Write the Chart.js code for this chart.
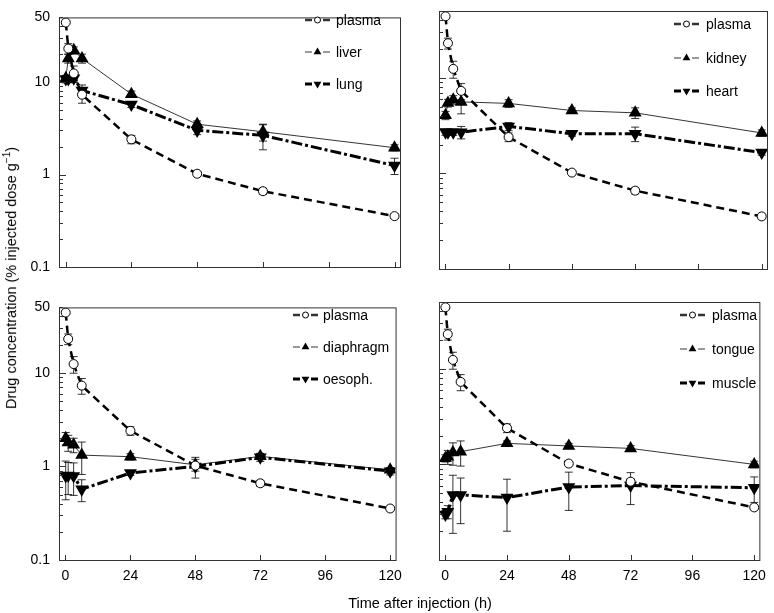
<!DOCTYPE html>
<html>
<head>
<meta charset="utf-8">
<script src="https://cdn.jsdelivr.net/npm/chart.js@4.4.1/dist/chart.umd.min.js"></script>
<style>
  body { margin: 0; background: #fff; width: 774px; height: 613px; position: relative; overflow: hidden;
         font-family: "Liberation Sans", Arial, sans-serif; color: #000; }
  .panel { position: absolute; }
  #ytitle { position: absolute; left: 10px; top: 278px; transform: translate(-50%, -50%) rotate(-90deg);
            white-space: nowrap; font-size: 14.5px; }
  #ytitle sup { font-size: 10px; }
  #xtitle { position: absolute; left: 420px; top: 603px; transform: translate(-50%, -50%);
            white-space: nowrap; font-size: 14.5px; }
</style>
</head>
<body>
<div class="panel" style="left:0;top:0"><canvas id="c1" width="410" height="290"></canvas></div>
<div class="panel" style="left:410px;top:0"><canvas id="c2" width="364" height="290"></canvas></div>
<div class="panel" style="left:0;top:290px"><canvas id="c3" width="410" height="323"></canvas></div>
<div class="panel" style="left:410px;top:290px"><canvas id="c4" width="364" height="323"></canvas></div>
<div id="ytitle">Drug concentration (% injected dose g<sup>−1</sup>)</div>
<div id="xtitle">Time after injection (h)</div>

<script>
// Sampling times (h) and axis ticks
const times = [0.08, 1, 3, 6, 24, 48, 72, 120];
const xTicks = [0, 24, 48, 72, 96, 120];
const yTicks = [0.1, 1, 10, 50];

// Mean values (% injected dose per g) and SD
const plasma      = [44, 23, 12.4, 7.3, 2.4, 1.02, 0.66, 0.355];
const plasmaSd    = [0, 3, 2.5, 1.4, 0.25, 0.05, 0.05, 0.02];
const liver       = [11, 18, 22, 18, 7.4, 3.5, 2.9, 1.95];
const liverSd     = [0, 2, 2, 2, 0.6, 0.3, 0.6, 0.15];
const lung        = [10.8, 10.8, 11, 8.1, 5.7, 3.0, 2.65, 1.25];
const lungSd      = [1, 1, 1, 1.2, 0.4, 0.3, 0.8, 0.25];
const kidney      = [4.05, 5.45, 5.9, 5.6, 5.4, 4.55, 4.3, 2.65];
const kidneySd    = [0.4, 0.5, 0.6, 1.4, 0.5, 0.3, 0.55, 0.2];
const heart       = [2.7, 2.7, 2.7, 2.7, 3.1, 2.6, 2.6, 1.65];
const heartSd     = [0.2, 0.2, 0.2, 0.4, 0.3, 0.15, 0.45, 0.1];
const diaphragm   = [2.0, 1.8, 1.7, 1.32, 1.27, 1.04, 1.28, 0.92];
const diaphragmSd = [0.3, 0.35, 0.3, 0.5, 0.1, 0.15, 0.1, 0.05];
const oesoph      = [0.79, 0.8, 0.79, 0.57, 0.85, 1.0, 1.25, 0.89];
const oesophSd    = [0.35, 0.3, 0.3, 0.15, 0.05, 0.25, 0.12, 0.08];
const tongue      = [1.16, 1.2, 1.33, 1.36, 1.66, 1.56, 1.47, 1.0];
const tongueSd    = [0.1, 0.2, 0.35, 0.4, 0.1, 0.1, 0.1, 0.08];
const muscle      = [0.3, 0.32, 0.48, 0.48, 0.45, 0.58, 0.6, 0.57];
const muscleSd    = [0.03, 0.05, 0.29, 0.24, 0.25, 0.25, 0.22, 0.17];

const FONT = '"Liberation Sans", Arial, sans-serif';

const styles = {
  circle: { borderWidth: 2.5, borderDash: [8, 5], pointStyle: 'circle', pointRadius: 4.5,
            pointRotation: 0, pointBackgroundColor: '#fff', pointBorderWidth: 1 },
  up:     { borderWidth: 0.8, borderDash: [], pointStyle: 'triangle', pointRadius: 7.5,
            pointRotation: 0, pointBackgroundColor: '#000', pointBorderWidth: 0 },
  down:   { borderWidth: 3, borderDash: [11, 3, 3, 3], pointStyle: 'triangle', pointRadius: 7.5,
            pointRotation: 180, pointBackgroundColor: '#000', pointBorderWidth: 0 }
};

function makeDataset(label, values, sd, style) {
  return Object.assign({
    label: label,
    data: times.map((t, i) => ({ x: t, y: values[i] })),
    sd: sd,
    borderColor: '#000',
    pointBorderColor: '#000',
    tension: 0,
    fill: false
  }, styles[style]);
}

// Frame, inward tick marks, error bars and the small legend
const panelDeco = {
  id: 'panelDeco',
  beforeDatasetsDraw(chart) {
    const ctx = chart.ctx, y = chart.scales.y;
    ctx.save();
    ctx.strokeStyle = '#000';
    ctx.lineWidth = 0.8;
    chart.data.datasets.forEach((ds, i) => {
      const meta = chart.getDatasetMeta(i);
      ds.data.forEach((p, j) => {
        const s = ds.sd[j];
        if (!s) return;
        const px = meta.data[j].x;
        const top = y.getPixelForValue(p.y + s);
        const bot = y.getPixelForValue(Math.max(p.y - s, 0.1));
        ctx.beginPath();
        ctx.moveTo(px, top); ctx.lineTo(px, bot);
        ctx.moveTo(px - 4, top); ctx.lineTo(px + 4, top);
        ctx.moveTo(px - 4, bot); ctx.lineTo(px + 4, bot);
        ctx.stroke();
      });
    });
    ctx.restore();
  },
  afterDraw(chart, args, opts) {
    const ctx = chart.ctx, a = chart.chartArea;
    const xs = chart.scales.x, ys = chart.scales.y;
    ctx.save();
    ctx.strokeStyle = '#333';
    ctx.lineWidth = 1;
    ctx.strokeRect(a.left + 0.5, a.top + 0.5, a.right - a.left, a.bottom - a.top);
    ctx.beginPath();
    xTicks.forEach(v => {
      const px = Math.round(xs.getPixelForValue(v)) + 0.5;
      ctx.moveTo(px, a.bottom); ctx.lineTo(px, a.bottom - 5);
    });
    [0.1, 1, 10].forEach(dec => {
      for (let k = 1; k <= 9; k++) {
        const v = dec * k;
        if (v > 50) break;
        const py = Math.round(ys.getPixelForValue(v)) + 0.5;
        ctx.moveTo(a.left, py); ctx.lineTo(a.left + (k === 1 ? 7 : 4), py);
      }
    });
    ctx.stroke();

    // legend
    const lg = opts.legend;
    ctx.font = '14px ' + FONT;
    ctx.fillStyle = '#000';
    ctx.textBaseline = 'middle';
    chart.data.datasets.forEach((ds, i) => {
      const ly = lg.rows[i];
      ctx.setLineDash([]);
      ctx.lineWidth = ds.borderWidth;
      ctx.beginPath();
      ctx.moveTo(lg.x, ly); ctx.lineTo(lg.x + 7, ly);
      ctx.moveTo(lg.x + 18, ly); ctx.lineTo(lg.x + 25, ly);
      ctx.stroke();
      ctx.fillStyle = ds.pointBackgroundColor;
      ctx.strokeStyle = '#000';
      ctx.lineWidth = 1;
      Chart.helpers.drawPoint(ctx, {
        pointStyle: ds.pointStyle, rotation: ds.pointRotation,
        radius: ds.pointStyle === 'circle' ? 3 : 4.5, borderWidth: ds.pointBorderWidth
      }, lg.x + 12.5, ly);
      ctx.fillStyle = '#000';
      ctx.fillText(ds.label, lg.text, ly + 1);
    });
    ctx.restore();
  }
};

const panels = [
  { id: 'c1', tissues: [['liver', liver, liverSd], ['lung', lung, lungSd]],
    showX: false, showY: true, yw: 59, xh: 23, pad: { left: 0, top: 8, right: 10, bottom: 0 },
    legend: { x: 305, text: 336, rows: [20, 52, 84] } },
  { id: 'c2', tissues: [['kidney', kidney, kidneySd], ['heart', heart, heartSd]],
    showX: false, showY: false, yw: 29, xh: 21, pad: { left: 0, top: 11, right: 7, bottom: 0 },
    legend: { x: 264, text: 296, rows: [24, 58, 91] } },
  { id: 'c3', tissues: [['diaphragm', diaphragm, diaphragmSd], ['oesoph.', oesoph, oesophSd]],
    showX: true, showY: true, yw: 59, xh: 53, pad: { left: 0, top: 9, right: 10, bottom: 0 },
    legend: { x: 293, text: 323, rows: [25, 57, 89] } },
  { id: 'c4', tissues: [['tongue', tongue, tongueSd], ['muscle', muscle, muscleSd]],
    showX: true, showY: false, yw: 29, xh: 53, pad: { left: 0, top: 12, right: 7, bottom: 0 },
    legend: { x: 270, text: 302, rows: [25, 59, 93] } }
];

panels.forEach(p => {
  new Chart(document.getElementById(p.id), {
    type: 'line',
    data: {
      datasets: [
        makeDataset('plasma', plasma, plasmaSd, 'circle'),
        makeDataset(p.tissues[0][0], p.tissues[0][1], p.tissues[0][2], 'up'),
        makeDataset(p.tissues[1][0], p.tissues[1][1], p.tissues[1][2], 'down')
      ]
    },
    options: {
      responsive: false,
      animation: false,
      events: [],
      layout: { padding: p.pad, autoPadding: false },
      scales: {
        x: {
          type: 'linear', min: -2.4, max: 122,
          afterBuildTicks: s => { s.ticks = xTicks.map(v => ({ value: v })); },
          afterFit: s => { s.height = p.xh; },
          grid: { display: false, drawTicks: false },
          border: { display: false },
          ticks: { display: p.showX, color: '#000', padding: 8, maxRotation: 0, autoSkip: false,
                   font: { family: FONT, size: 14 } }
        },
        y: {
          type: 'logarithmic', min: 0.1, max: 50,
          afterBuildTicks: s => { s.ticks = yTicks.map(v => ({ value: v })); },
          afterFit: s => { s.width = p.yw; },
          grid: { display: false, drawTicks: false },
          border: { display: false },
          ticks: { display: p.showY, color: '#000', padding: 9, autoSkip: false,
                   callback: v => String(v), font: { family: FONT, size: 14 } }
        }
      },
      plugins: {
        legend: { display: false },
        tooltip: { enabled: false },
        panelDeco: { legend: p.legend }
      }
    },
    plugins: [panelDeco]
  });
});
</script>
</body>
</html>
